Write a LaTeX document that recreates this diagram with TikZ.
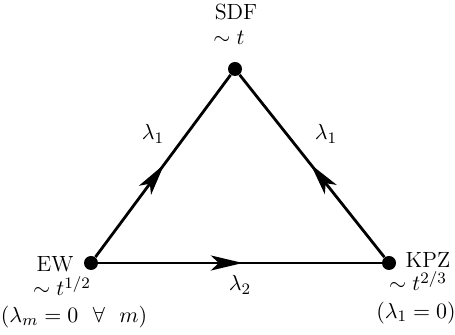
\documentclass[tikz,border=0pt]{standalone}
\usetikzlibrary{arrows.meta,decorations.markings}
\begin{document}
\begin{tikzpicture}[x=0.5pt,y=-0.5pt,
  dot/.style={circle,fill=black,inner sep=0pt,minimum size=7pt},
  edge/.style={line width=1.4pt,postaction={decorate},
    decoration={markings,mark=at position 0.51 with {\arrow{Stealth[length=16pt,width=7.5pt,inset=4pt]}}}},
  lbl/.style={inner sep=0pt,font=\fontsize{11}{13}\selectfont}]
\useasboundingbox (0,0) rectangle (455,335);
\node[dot] (EW) at (91,263) {};
\node[dot] (KPZ) at (389,263) {};
\node[dot] (SDF) at (235,69) {};
\draw[edge] (EW) -- (SDF);
\draw[edge] (KPZ) -- (SDF);
\draw[edge] (EW) -- (KPZ);
\node[lbl] (l1) at (153,134) {$\lambda_1$};
\node[lbl] (l2) at (326,134) {$\lambda_1$};
\node[lbl] (l3) at (240,285) {$\lambda_2$};
\node[lbl] (ew) at (55,264) {EW};
\node[lbl] (ewt) at (62,286) {$\sim t^{1/2}$};
\node[lbl] (ewc) at (74,317) {$(\lambda_m=0\ \ \forall\ \ m)$};
\node[lbl] (kpz) at (428,260) {KPZ};
\node[lbl] (kpzt) at (418,281) {$\sim t^{2/3}$};
\node[lbl] (kpzc) at (416,313) {$(\lambda_1=0)$};
\node[lbl] (sdf) at (236,12) {SDF};
\node[lbl] (sdft) at (229,38) {$\sim t$};
\end{tikzpicture}
\end{document}
